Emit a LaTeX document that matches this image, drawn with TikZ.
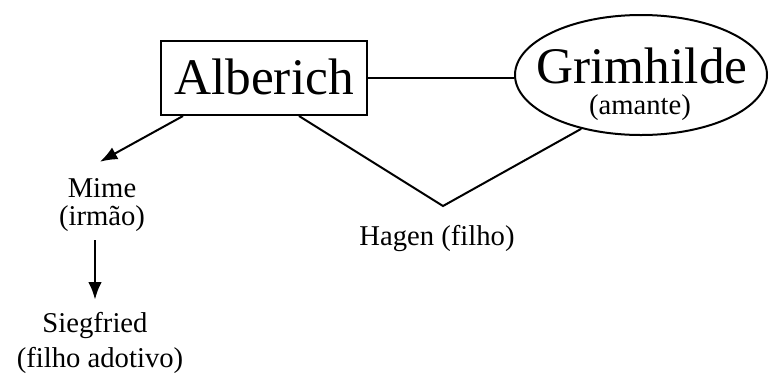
\documentclass[tikz,border=0pt]{standalone}
\usepackage{fontspec}
\setmainfont{Liberation Serif}
\usetikzlibrary{arrows.meta,calc,shapes.geometric}
\begin{document}
\begin{tikzpicture}[x=0.75pt,y=-0.75pt,
  big/.style={font=\fontsize{38.5}{46}\selectfont, inner sep=0pt},
  small/.style={font=\fontsize{21.5}{26}\selectfont, inner sep=0pt, anchor=base},
  link/.style={line width=1.5pt},
  arr/.style={line width=1.5pt, -{Latex[length=13pt,width=10pt]}}
]
\useasboundingbox (0,0) rectangle (769,380);

% main characters
\node[draw, line width=1.5pt, inner sep=0pt, minimum width=154.5pt, minimum height=55.5pt] (alb) at (264,78) {};
\node[big] (albtxt) at (264,77) {Alberich};
\node[draw, ellipse, line width=1.5pt, inner sep=0pt, minimum width=189pt, minimum height=90pt] (gr) at (641,75) {};
\node[big, anchor=base] (grtxt) at (642,83) {Grimhilde};
\node[small] (grrel) at (640,114) {(amante)};

% relatives
\node[small] (mime) at (102,197) {Mime};
\node[small] (mimerel) at (102,225) {(irmão)};
\node[small] (sieg) at (95,332) {Siegfried};
\node[small] (siegrel) at (100,367) {(filho adotivo)};
\node[small] (hagen) at (437,245) {Hagen (filho)};

% connectors
\draw[link] (alb.east) -- (alb.east -| gr.west);
\coordinate (mimein) at ($(mime.north)+(-2,-16)$);
\draw[arr] ($(alb.south west)+(23,0)$) -- (mimein);
\draw[arr] ([yshift=-6.75pt]mimerel.south -| sieg.north) -- ([yshift=9pt]sieg.north);
\coordinate (hv) at (443,206);
\draw[link, line join=miter] ($(alb.south west)+(139,0)$) -- (hv) -- (gr.222);
\end{tikzpicture}
\end{document}
